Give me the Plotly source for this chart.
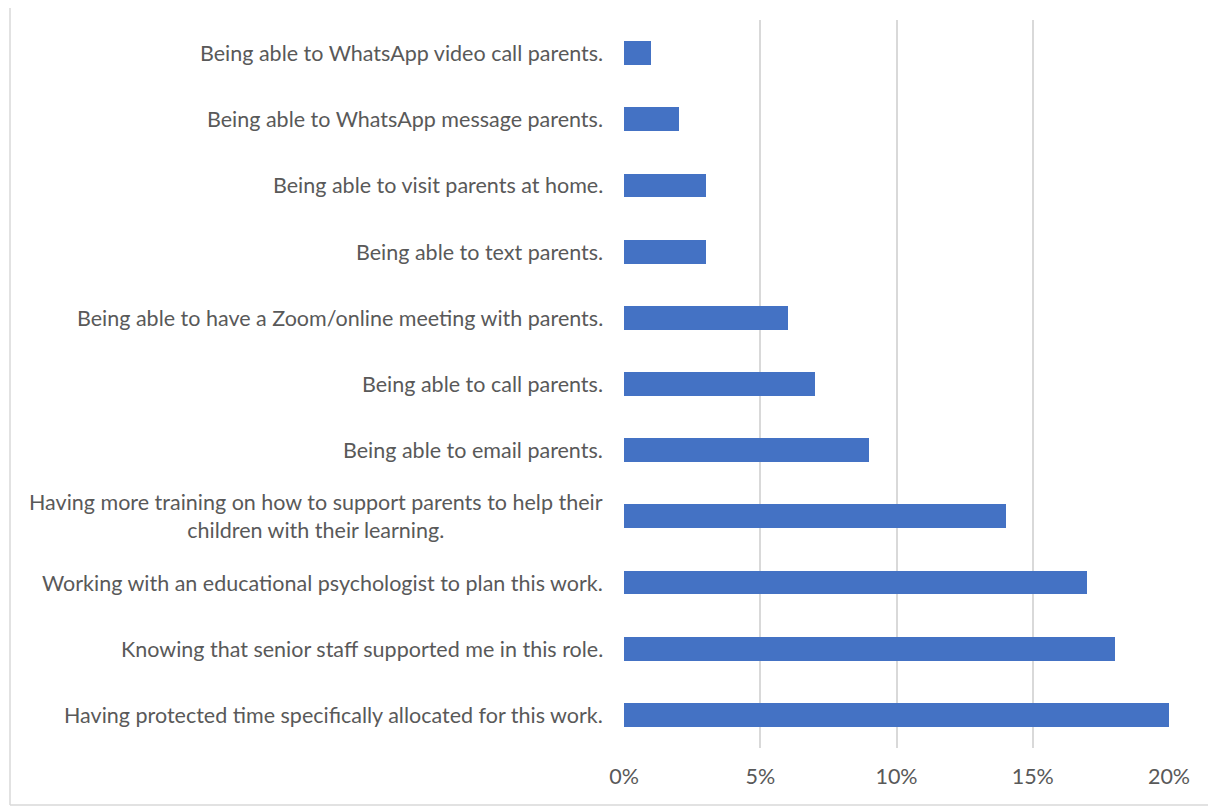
import plotly.graph_objects as go

# Survey responses: what would most help staff work with parents
categories = [
    "Being able to WhatsApp video call parents.",
    "Being able to WhatsApp message parents.",
    "Being able to visit parents at home.",
    "Being able to text parents.",
    "Being able to have a Zoom/online meeting with parents.",
    "Being able to call parents.",
    "Being able to email parents.",
    "Having more training on how to support parents to help their<br>children with their learning.",
    "Working with an educational psychologist to plan this work.",
    "Knowing that senior staff supported me in this role.",
    "Having protected time specifically allocated for this work.",
]
values = [0.01, 0.02, 0.03, 0.03, 0.06, 0.07, 0.09, 0.14, 0.17, 0.18, 0.20]
x_ticks = [0, 0.05, 0.10, 0.15, 0.20]
x_tick_labels = ["0%", "5%", "10%", "15%", "20%"]

W, H = 1208, 808
L, R, T, B = 624, 39, 20, 60
plot_w, plot_h = W - L - R, H - T - B

text_color = "#595959"
font_family = "Lato, 'Open Sans', sans-serif"
font_size = 21.5

fig = go.Figure(
    go.Bar(
        x=values,
        y=list(range(len(categories))),
        orientation="h",
        marker=dict(color="#4472C4", line=dict(width=0)),
        width=0.36,
        hoverinfo="x",
    )
)

# Category labels: right-aligned against the axis, multi-line text centred
for i, label in enumerate(categories):
    fig.add_annotation(
        x=0, xref="paper", xshift=-19,
        y=i, yref="y",
        text=label,
        showarrow=False,
        xanchor="right", yanchor="middle",
        align="center",
        font=dict(family=font_family, size=font_size, color=text_color),
    )

# Light chart frame on the left and bottom edges
def px_to_paper_x(px):
    return (px - L) / plot_w

def px_to_paper_y(py):
    return (H - B - py) / plot_h

frame = dict(color="#d9d9d9", width=1.5)
fig.add_shape(type="line", xref="paper", yref="paper",
              x0=px_to_paper_x(10), x1=px_to_paper_x(10),
              y0=px_to_paper_y(8), y1=px_to_paper_y(805), line=frame)
fig.add_shape(type="line", xref="paper", yref="paper",
              x0=px_to_paper_x(10), x1=px_to_paper_x(W),
              y0=px_to_paper_y(805), y1=px_to_paper_y(805), line=frame)

fig.update_layout(
    width=W, height=H,
    margin=dict(l=L, r=R, t=T, b=B, pad=0),
    paper_bgcolor="white",
    plot_bgcolor="white",
    showlegend=False,
    bargap=0,
    xaxis=dict(
        range=[0, 0.20],
        tickvals=x_ticks,
        ticktext=x_tick_labels,
        showgrid=True,
        gridcolor="#d9d9d9",
        gridwidth=1.5,
        zeroline=False,
        showline=False,
        ticks="",
        ticklabelstandoff=13,
        tickfont=dict(family=font_family, size=font_size, color=text_color),
        fixedrange=True,
    ),
    yaxis=dict(
        range=[len(categories) - 0.5, -0.5],
        showticklabels=False,
        showgrid=False,
        zeroline=False,
        showline=False,
        ticks="",
        fixedrange=True,
    ),
)

fig.write_html("out.html")
